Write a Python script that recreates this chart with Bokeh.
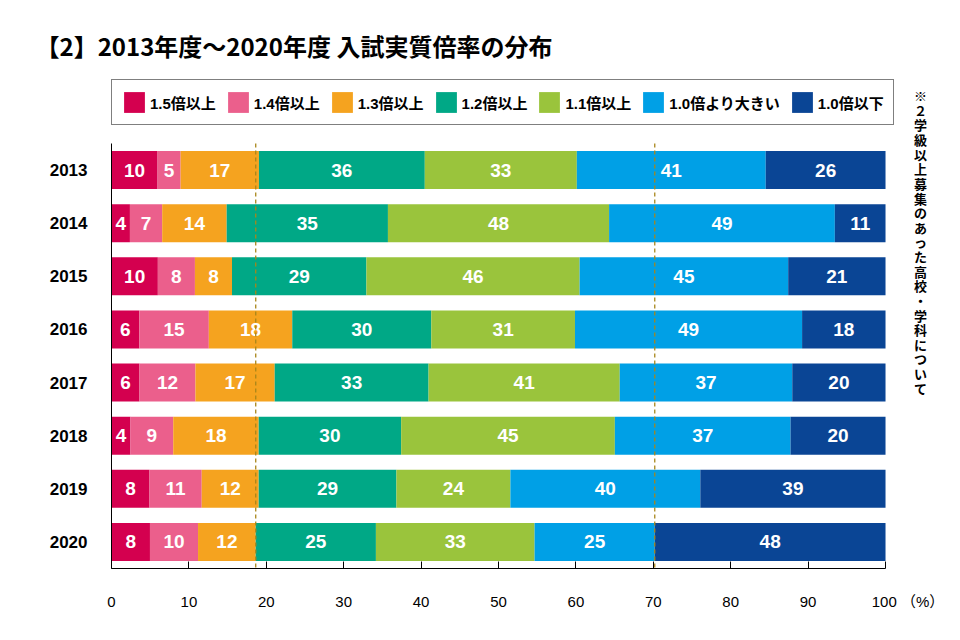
from bokeh.plotting import figure
from bokeh.models import ColumnDataSource, Range1d, FixedTicker, Label, Legend, LegendItem
from bokeh.core.properties import value
from bokeh.embed import file_html
from bokeh.resources import INLINE

years = ["2013", "2014", "2015", "2016", "2017", "2018", "2019", "2020"]
series_names = ["1.5倍以上", "1.4倍以上", "1.3倍以上", "1.2倍以上", "1.1倍以上", "1.0倍より大きい", "1.0倍以下"]
colors = ["#D4004F", "#EB5F8C", "#F5A31F", "#00A886", "#9AC43C", "#00A0E6", "#0A4595"]

r15 = [10, 4, 10, 6, 6, 4, 8, 8]
r14 = [5, 7, 8, 15, 12, 9, 11, 10]
r13 = [17, 14, 8, 18, 17, 18, 12, 12]
r12 = [36, 35, 29, 30, 33, 30, 29, 25]
r11 = [33, 48, 46, 31, 41, 45, 24, 33]
r10p = [41, 49, 45, 49, 37, 37, 40, 25]
r10m = [26, 11, 21, 18, 20, 20, 39, 48]

x_ticks = [0, 10, 20, 30, 40, 50, 60, 70, 80, 90, 100]
title_text = "【2】2013年度～2020年度 入試実質倍率の分布"
note_text = "※２学級以上募集のあった高校・学科について"
unit_text = "（%）"

counts = [r15, r14, r13, r12, r11, r10p, r10m]
n = len(years)
totals = [sum(c[i] for c in counts) for i in range(n)]
pct = [[c[i] / totals[i] * 100 for i in range(n)] for c in counts]

keys = ["s%d" % k for k in range(len(counts))]
data = {"y": list(range(n))}
for k, pc in zip(keys, pct):
    data[k] = pc
source = ColumnDataSource(data)

# label positions
lx, ly, lt = [], [], []
for i in range(n):
    cum = 0.0
    for k in range(len(counts)):
        lx.append(cum + pct[k][i] / 2)
        ly.append(i)
        lt.append(str(counts[k][i]))
        cum += pct[k][i]
lsrc = ColumnDataSource(dict(x=lx, y=ly, t=lt))

p = figure(width=944, height=624, x_range=Range1d(0, 107.62), y_range=Range1d(7.5, -1.761),
           output_backend="svg", toolbar_location=None,
           min_border_left=111, min_border_right=0, min_border_top=76, min_border_bottom=56)
p.background_fill_color = "white"
p.border_fill_color = "white"
p.outline_line_color = None
p.xgrid.visible = False
p.ygrid.visible = False

# title
p.title.text = title_text
p.title.align = "left"
p.title.offset = -76
p.title.standoff = 28
p.title.text_font = "Noto Sans CJK JP"
p.title.text_font_style = "bold"
p.title.text_font_size = "24px"
p.title.text_color = "black"

renderers = p.hbar_stack(keys, y="y", height=0.715, fill_color=colors, line_color=None, source=source)

p.text(x="x", y="y", text="t", source=lsrc, text_color="white",
       text_font=value("Liberation Sans"), text_font_style="bold", text_font_size="19px",
       text_align="center", text_baseline="middle")

# dashed reference lines at the 2020 boundaries
last = n - 1
loc1 = pct[0][last] + pct[1][last] + pct[2][last]
loc2 = 100 - pct[6][last]
p.segment(x0=[loc1, loc2], y0=[-0.5, -0.5], x1=[loc1, loc2], y1=[n - 0.5, n - 0.5],
          line_color="#A8861A", line_dash="4 3", line_width=1.3)

# axes
p.xaxis.bounds = (0, 100)
p.xaxis.ticker = FixedTicker(ticks=x_ticks)
p.xaxis.major_label_overrides = {100: "\u3000\u3000\u3000100 " + unit_text}
p.xaxis.major_tick_in = 7
p.xaxis.major_tick_out = 0
p.xaxis.minor_tick_line_color = None
p.xaxis.axis_line_color = "black"
p.xaxis.major_tick_line_color = "black"
p.xaxis.major_label_standoff = 24
p.xaxis.major_label_text_font = "Liberation Sans, Noto Sans CJK JP"
p.xaxis.major_label_text_font_size = "15px"
p.xaxis.major_label_text_color = "black"

p.yaxis.bounds = (-0.5, n - 0.5)
p.yaxis.ticker = FixedTicker(ticks=list(range(n)))
p.yaxis.major_label_overrides = {i: years[i] for i in range(n)}
p.yaxis.major_tick_line_color = None
p.yaxis.minor_tick_line_color = None
p.yaxis.axis_line_color = "black"
p.yaxis.major_label_standoff = 18
p.yaxis.major_label_text_font = "Liberation Sans"
p.yaxis.major_label_text_font_style = "bold"
p.yaxis.major_label_text_font_size = "17px"
p.yaxis.major_label_text_color = "black"

# legend (inside the extended frame, above the bars)
items = [LegendItem(label=nm, renderers=[r]) for nm, r in zip(series_names, renderers)]
legend = Legend(items=items, orientation="horizontal", location=(0, 443),
                glyph_width=26, glyph_height=26, label_standoff=3, spacing=9,
                padding=9, margin=0,
                label_text_font="Liberation Sans, Noto Sans CJK JP", label_text_font_style="bold",
                label_text_font_size="15px", label_text_color="black",
                border_line_color="black", border_line_width=1.5,
                background_fill_color="white", background_fill_alpha=1.0)
p.add_layout(legend)

# vertical note
p.add_layout(Label(x=104.52, y=-1.58, text="\n".join(list(note_text)), text_font="Noto Sans CJK JP",
                   text_font_style="bold", text_font_size="13px", text_color="black",
                   text_align="center", text_baseline="top", text_line_height=0.77))

open("out.html", "w").write(file_html(p, INLINE))
